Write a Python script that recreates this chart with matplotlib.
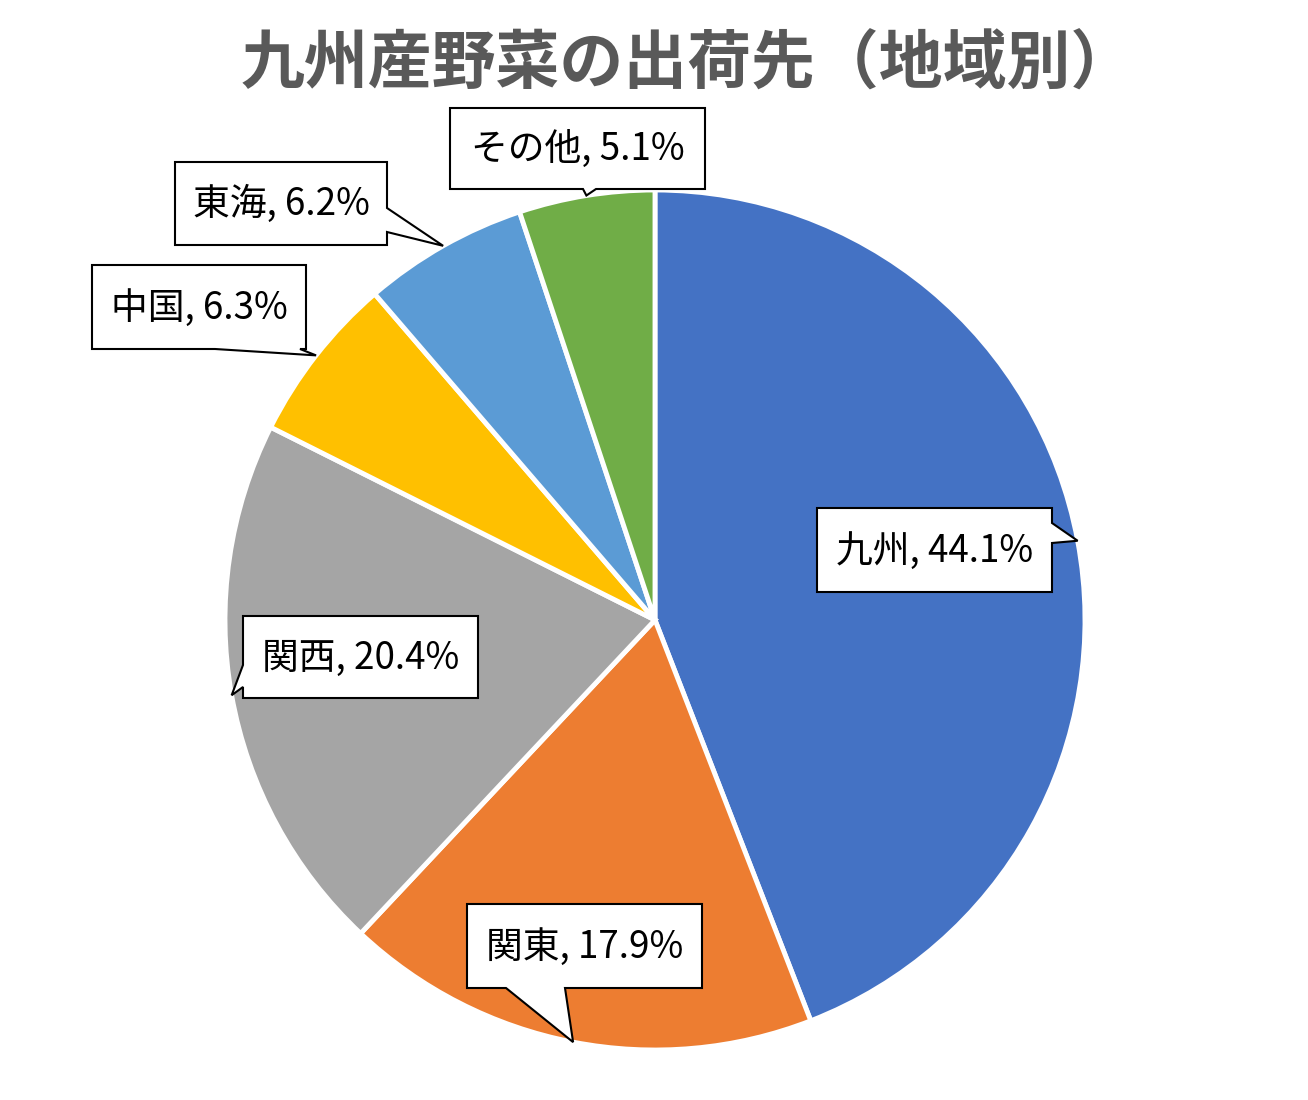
import matplotlib.pyplot as plt
from matplotlib.patches import Polygon
import numpy as np

plt.rcParams['font.family'] = ['Noto Sans CJK JP', 'DejaVu Sans']

regions = ['九州', '関東', '関西', '中国', '東海', 'その他']
shares = [44.1, 17.9, 20.4, 6.3, 6.2, 5.1]
colors = ['#4472C4', '#ED7D31', '#A5A5A5', '#FFC000', '#5B9BD5', '#70AD47']

W, H = 1308, 1100
cx, cy, r = 655, 620, 430   # pixel coords, y from top

# label boxes: (left, top, right, bottom), pointer side, pointer base
boxes = [
    ((817, 508, 1052, 592), 'right', (523, 543)),
    ((467, 904, 702, 988), 'bottom', (506, 565)),
    ((243, 616, 478, 698), 'left', (665, 687)),
    ((92, 265, 306, 349), 'bottom', (215, 300)),
    ((175, 162, 387, 245), 'right', (208, 232)),
    ((450, 108, 705, 189), 'bottom', (583, 596)),
]

fig = plt.figure(figsize=(W / 100, H / 100), dpi=100)
ax = fig.add_axes([0, 0, 1, 1])

wedges, _ = ax.pie(shares, colors=colors, startangle=90, counterclock=False,
                   center=(cx, H - cy), radius=r,
                   wedgeprops=dict(edgecolor='white', linewidth=3.5))
ax.set_xlim(0, W)
ax.set_ylim(0, H)
ax.set_aspect('equal')
ax.axis('off')


def callout(box, side, base, tip):
    x0, y0, x1, y1 = box
    b0, b1 = base
    pts = [(x0, y0)]
    if side == 'top':
        pts += [(b0, y0), tip, (b1, y0)]
    pts.append((x1, y0))
    if side == 'right':
        pts += [(x1, b0), tip, (x1, b1)]
    pts.append((x1, y1))
    if side == 'bottom':
        pts += [(b1, y1), tip, (b0, y1)]
    pts.append((x0, y1))
    if side == 'left':
        pts += [(x0, b1), tip, (x0, b0)]
    pts = [(px, H - py) for px, py in pts]
    ax.add_patch(Polygon(pts, closed=True, facecolor='white', edgecolor='black',
                         linewidth=1.5, zorder=5))


for w, name, val, (box, side, base) in zip(wedges, regions, shares, boxes):
    mid = np.deg2rad((w.theta1 + w.theta2) / 2)
    tip = (cx + r * np.cos(mid), cy - r * np.sin(mid))
    callout(box, side, base, tip)
    ax.text((box[0] + box[2]) / 2, H - (box[1] + box[3]) / 2 - 1, f'{name}, {val}%',
            ha='center', va='center', fontsize=26.5, color='black', zorder=6)

ax.text(688, H - 65, '九州産野菜の出荷先（地域別）', ha='center', va='center',
        fontsize=46, fontweight='bold', color='#595959')

fig.savefig('out.png', dpi=100)
